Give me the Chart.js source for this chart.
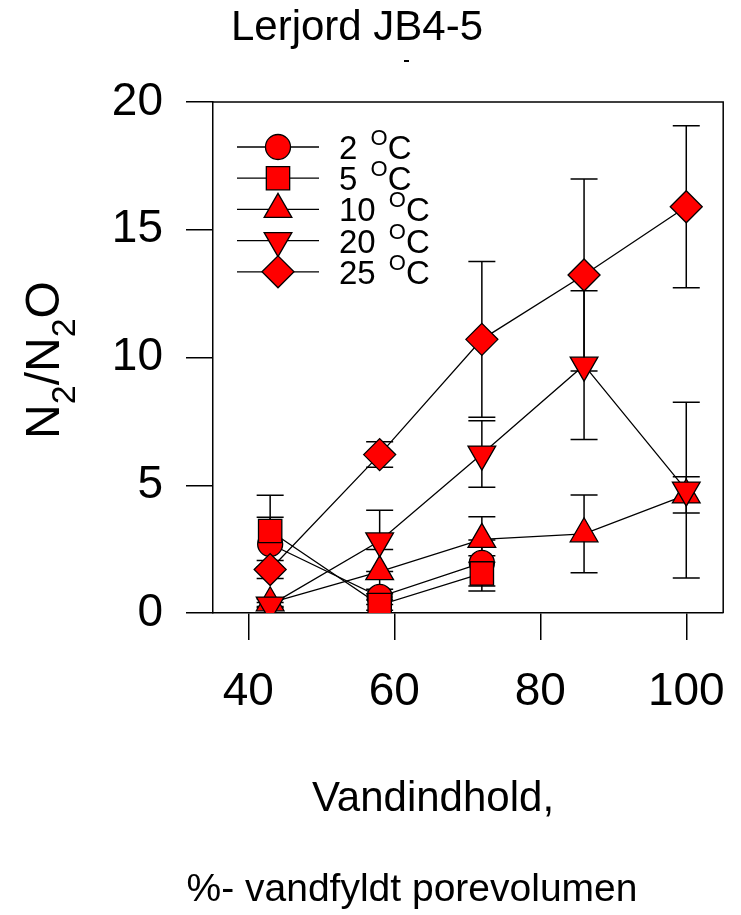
<!DOCTYPE html>
<html>
<head>
<meta charset="utf-8">
<script src="https://cdn.jsdelivr.net/npm/chart.js@4.4.1/dist/chart.umd.min.js"></script>
<style>
  body { margin: 0; background: #fff; }
  canvas { display: block; }
</style>
</head>
<body>
<canvas id="n2Chart" width="741" height="915"></canvas>
<script>
// vandindhold (% vandfyldt porevolumen)
const vandindhold = [43, 58, 72, 86, 100];
const xTicks = [40, 60, 80, 100];
const yTicks = [0, 5, 10, 15, 20];

// N2/N2O middelværdier og fejl pr. temperatur
const t2 = [2.7, 0.63, 1.96];
const t2err = [1.05, 0.3, 0.9];
const t5 = [3.21, 0.31, 1.55];
const t5err = [1.4, 0.2, 0.69];
const t10 = [0.4, 1.62, 2.88, 3.1, 4.62];
const t10err = [0.15, 0.87, 0.89, 1.52, 0.71];
const t20 = [0.31, 2.82, 6.22, 9.7, 4.81];
const t20err = [0.1, 1.2, 1.3, 2.91, 3.44];
const t25 = [1.7, 6.2, 10.71, 13.23, 15.9];
const t25err = [0.35, 0.5, 3.05, 3.76, 3.17];

const seriesLabels = ['2', '5', '10', '20', '25'];
const FONT = '"Liberation Sans", Arial, Helvetica, sans-serif';

function pts(vals) {
    return vals.map((v, i) => ({ x: vandindhold[i], y: v }));
}

const styles = [
    { pointStyle: 'circle', radius: 12.5, rotation: 0 },
    { pointStyle: 'rect', radius: 16.5, rotation: 0 },
    { pointStyle: 'triangle', radius: 16, rotation: 0 },
    { pointStyle: 'triangle', radius: 16, rotation: 180 },
    { pointStyle: 'rectRot', radius: 16, rotation: 0 }
];
const values = [t2, t5, t10, t20, t25];
const errors = [t2err, t5err, t10err, t20err, t25err];

const datasets = values.map((vals, i) => ({
    label: seriesLabels[i] + ' °C',
    data: pts(vals),
    errors: errors[i],
    showLine: true,
    borderColor: '#000',
    borderWidth: 1.3,
    pointStyle: styles[i].pointStyle,
    pointRadius: styles[i].radius,
    pointRotation: styles[i].rotation,
    pointBackgroundColor: '#ff0000',
    pointBorderColor: '#000',
    pointBorderWidth: 1.3,
    order: 5 - i
}));

// fejlbjælker under markørerne
const errorBars = {
    id: 'errorBars',
    beforeDatasetsDraw(chart) {
        const ctx = chart.ctx;
        const xs = chart.scales.x, ys = chart.scales.y;
        ctx.save();
        ctx.strokeStyle = '#000';
        ctx.lineWidth = 1.5;
        chart.data.datasets.forEach(ds => {
            ds.data.forEach((p, i) => {
                const e = ds.errors[i];
                const px = xs.getPixelForValue(p.x);
                const top = ys.getPixelForValue(p.y + e);
                const bot = ys.getPixelForValue(p.y - e);
                ctx.beginPath();
                ctx.moveTo(px, top); ctx.lineTo(px, bot);
                ctx.moveTo(px - 13.5, top); ctx.lineTo(px + 13.5, top);
                ctx.moveTo(px - 13.5, bot); ctx.lineTo(px + 13.5, bot);
                ctx.stroke();
            });
        });
        ctx.restore();
    }
};

// ramme, legende og tekster
const decorations = {
    id: 'decorations',
    afterDraw(chart) {
        const ctx = chart.ctx;
        const a = chart.chartArea;
        ctx.save();
        ctx.strokeStyle = '#000';
        ctx.lineWidth = 1.5;
        ctx.beginPath();
        ctx.moveTo(a.left, a.top); ctx.lineTo(a.right, a.top); ctx.lineTo(a.right, a.bottom);
        ctx.stroke();

        // legende
        chart.data.datasets.forEach((ds, i) => {
            const y = 147 + i * 31.2;
            ctx.lineWidth = 1.3;
            ctx.beginPath();
            ctx.moveTo(237, y); ctx.lineTo(319, y);
            ctx.stroke();
            ctx.fillStyle = '#ff0000';
            ctx.strokeStyle = '#000';
            Chart.helpers.drawPoint(ctx, {
                pointStyle: styles[i].pointStyle,
                radius: styles[i].radius,
                rotation: styles[i].rotation,
                borderWidth: 1.3
            }, 278, y);
            ctx.fillStyle = '#000';
            ctx.textAlign = 'left';
            ctx.textBaseline = 'alphabetic';
            ctx.font = '33px ' + FONT;
            const num = seriesLabels[i] + ' ';
            ctx.fillText(num, 339, y + 12);
            let x = 339 + ctx.measureText(num).width + 4;
            ctx.font = '22px ' + FONT;
            ctx.fillText('O', x, y - 2);
            x += ctx.measureText('O').width;
            ctx.font = '33px ' + FONT;
            ctx.fillText('C', x, y + 12);
        });

        // titel
        ctx.fillStyle = '#000';
        ctx.textAlign = 'center';
        ctx.font = '42px ' + FONT;
        ctx.fillText('Lerjord JB4-5', 357, 40);
        ctx.fillRect(404, 60, 5, 2);

        // x-aksetitel
        ctx.fillText('Vandindhold,', 433, 811);
        ctx.font = '39px ' + FONT;
        ctx.fillText('%- vandfyldt porevolumen', 412, 901);

        // y-aksetitel N2/N2O
        ctx.translate(59, 360);
        ctx.rotate(-Math.PI / 2);
        const parts = [['N', 0], ['2', 1], ['/', 0], ['N', 0], ['2', 1], ['O', 0]];
        let w = 0;
        parts.forEach(p => {
            ctx.font = (p[1] ? '34px ' : '48px ') + FONT;
            w += ctx.measureText(p[0]).width;
        });
        let tx = -w / 2;
        ctx.textAlign = 'left';
        parts.forEach(p => {
            ctx.font = (p[1] ? '34px ' : '48px ') + FONT;
            ctx.fillText(p[0], tx, p[1] ? 16 : 0);
            tx += ctx.measureText(p[0]).width;
        });
        ctx.restore();
    }
};

new Chart(document.getElementById('n2Chart'), {
    type: 'scatter',
    data: { datasets: datasets },
    options: {
        responsive: false,
        animation: false,
        layout: { padding: { top: 102, right: 17, left: 0, bottom: 0 } },
        plugins: { legend: { display: false }, tooltip: { enabled: false } },
        scales: {
            x: {
                type: 'linear',
                min: 35.17,
                max: 105.06,
                afterBuildTicks: s => { s.ticks = xTicks.map(v => ({ value: v })); },
                afterFit: s => { s.height = 302; s.paddingLeft = 0; s.paddingRight = 0; },
                grid: { drawOnChartArea: false, drawTicks: true, tickLength: 27, color: '#000', lineWidth: 1.5 },
                border: { display: true, color: '#000', width: 1.5 },
                ticks: { color: '#000', font: { family: FONT, size: 46 }, padding: 25, maxRotation: 0 }
            },
            y: {
                min: 0,
                max: 20,
                afterBuildTicks: s => { s.ticks = yTicks.map(v => ({ value: v })); },
                afterFit: s => { s.width = 213; s.paddingTop = 0; s.paddingBottom = 0; },
                grid: { drawOnChartArea: false, drawTicks: true, tickLength: 27, color: '#000', lineWidth: 1.5 },
                border: { display: true, color: '#000', width: 1.5 },
                ticks: { color: '#000', font: { family: FONT, size: 46 }, padding: 23 }
            }
        }
    },
    plugins: [errorBars, decorations]
});
</script>
</body>
</html>
